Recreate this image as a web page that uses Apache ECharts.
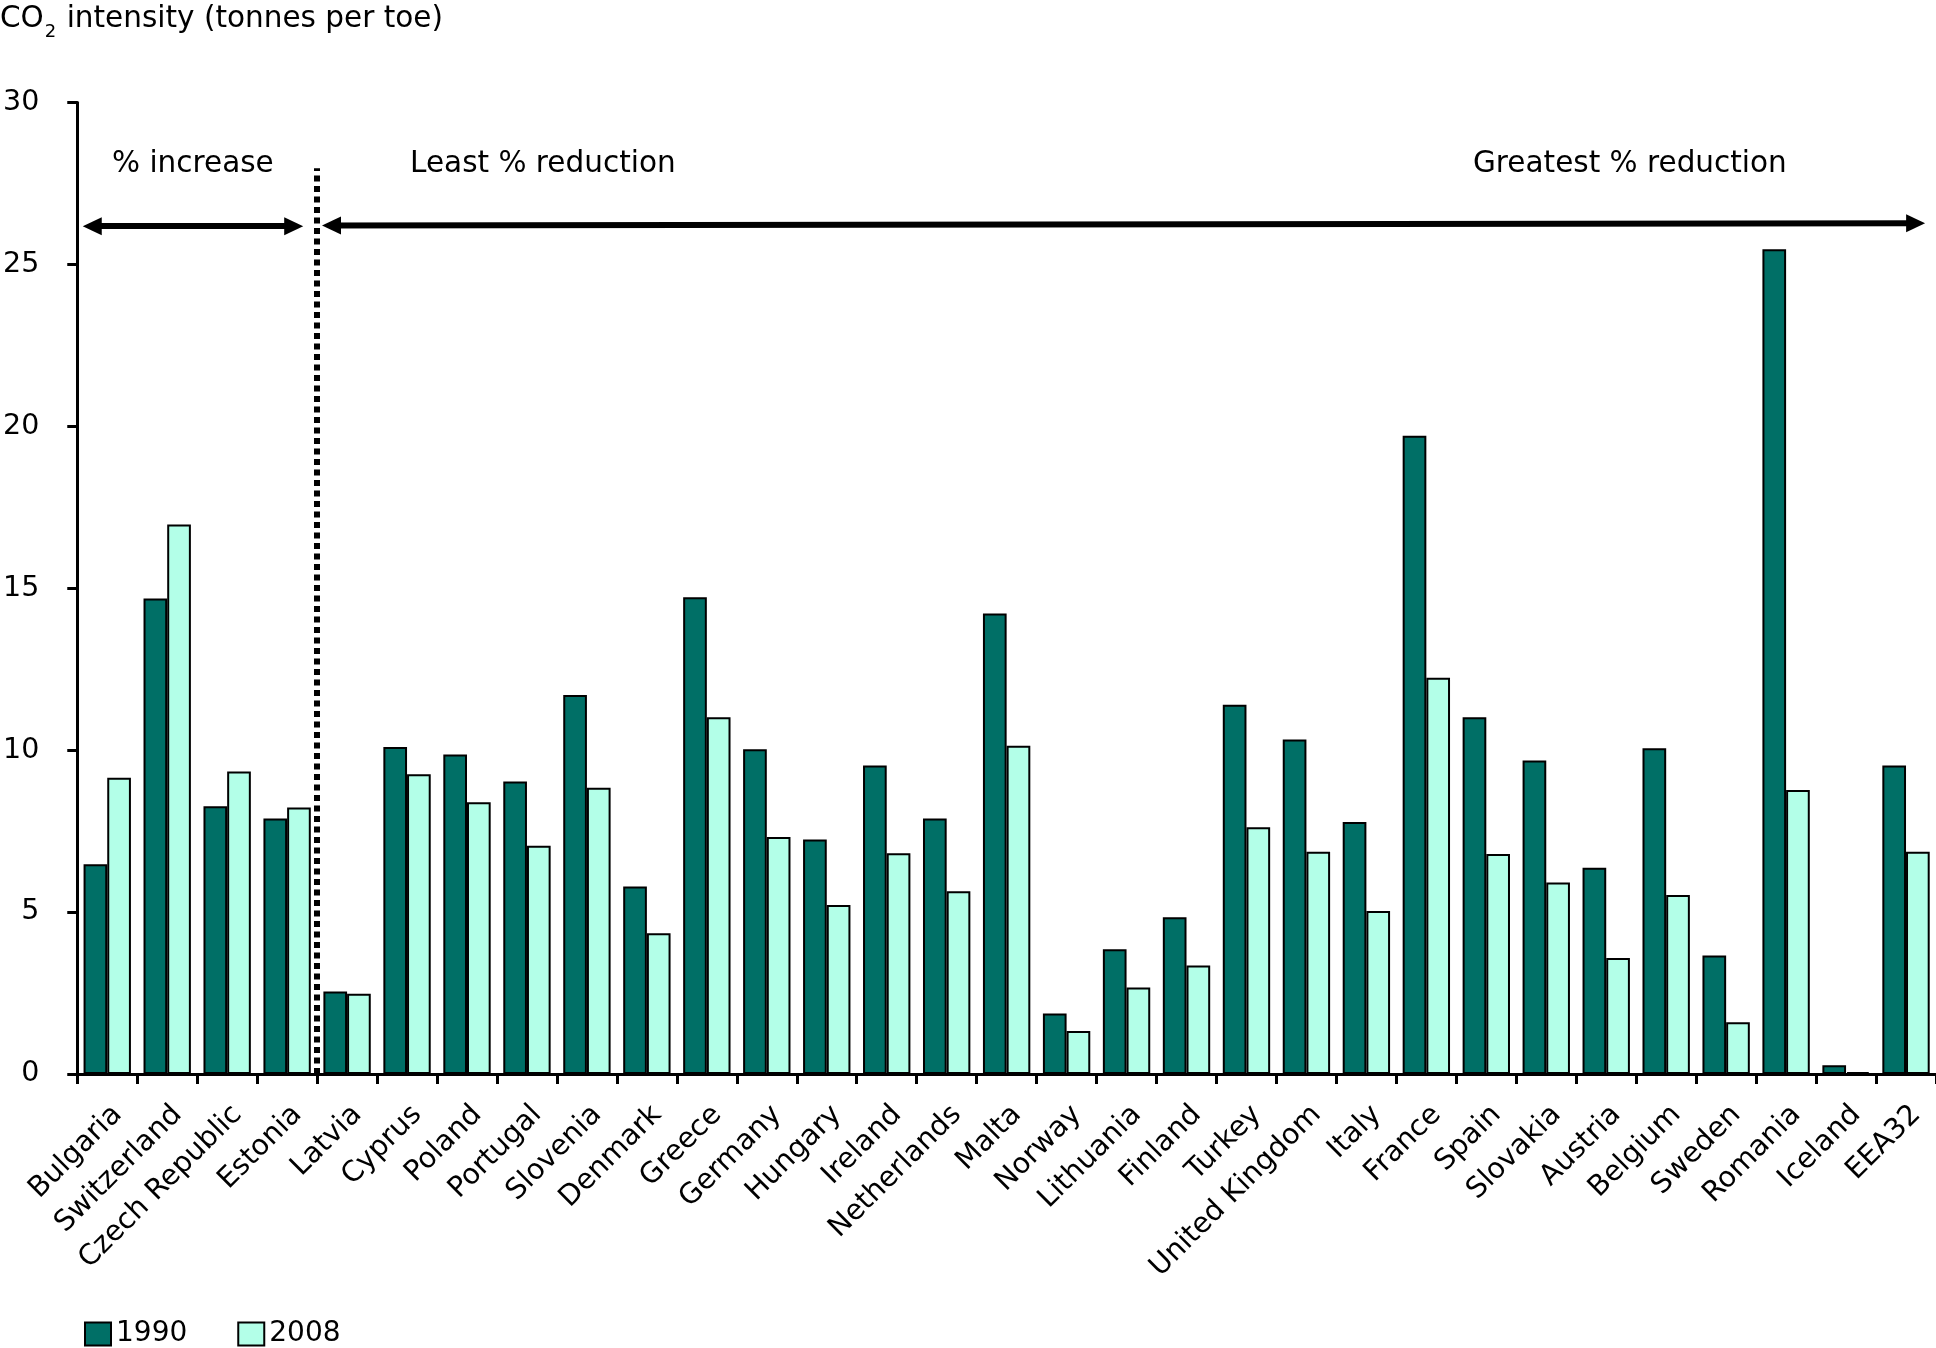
<!DOCTYPE html>
<html>
<head>
<meta charset="utf-8">
<script src="https://cdn.jsdelivr.net/npm/echarts@6/dist/echarts.min.js"></script>
<style>
html,body{margin:0;padding:0;background:#fff;}
#chart{width:1936px;height:1348px;}
</style>
</head>
<body>
<div id="chart"></div>
<script>
const categories = ["Bulgaria","Switzerland","Czech Republic","Estonia","Latvia","Cyprus","Poland","Portugal","Slovenia","Denmark","Greece","Germany","Hungary","Ireland","Netherlands","Malta","Norway","Lithuania","Finland","Turkey","United Kingdom","Italy","France","Spain","Slovakia","Austria","Belgium","Sweden","Romania","Iceland","EEA32"];
const values1990 = [6.48,14.68,8.27,7.89,2.55,10.1,9.87,9.03,11.7,5.79,14.72,10.03,7.24,9.53,7.89,14.22,1.87,3.85,4.84,11.4,10.33,7.78,19.71,11.02,9.68,6.37,10.06,3.66,25.47,0.27,9.53];
const values2008 = [9.15,16.97,9.34,8.23,2.48,9.26,8.39,7.05,8.84,4.35,11.02,7.32,5.22,6.82,5.64,10.14,1.33,2.67,3.35,7.62,6.86,5.03,12.24,6.79,5.91,3.58,5.53,1.6,8.77,0.06,6.86];
const yTicks = {min:0, max:30, interval:5};
const seriesNames = ["1990","2008"];
const colors = ["#006F66","#B3FFE8"];
// annotation layout in axis units (x: category boundaries 0..31, y: data units)
const dividerX = 4;
const dividerTop = 27.97;
const arrowIncrease = [[0.25,26.18],[3.61,26.18]];
const arrowReduction = [[4.24,26.2],[30.66,26.27]];
const FONT = "DejaVu Sans";

const chart = echarts.init(document.getElementById('chart'));
const option = {
  animation:false,
  backgroundColor:'#fff',
  textStyle:{fontFamily:FONT,color:'#000'},
  grid:{left:75,right:0,top:102.5,bottom:274,containLabel:false},
  xAxis:[{
    type:'category',data:categories,boundaryGap:true,
    axisLine:{lineStyle:{color:'#000',width:3}},
    axisTick:{show:true,length:10,lineStyle:{color:'#000',width:3}},
    axisLabel:{rotate:45,fontSize:28.5,fontFamily:FONT,color:'#000',margin:26,interval:0,verticalAlign:'top'},
    splitLine:{show:false}
  },{
    type:'value',min:0,max:31,show:false
  }],
  yAxis:[{
    type:'value',min:yTicks.min,max:yTicks.max,interval:yTicks.interval,
    axisLine:{show:true,lineStyle:{color:'#000',width:3}},
    axisTick:{show:true,length:10,lineStyle:{color:'#000',width:3}},
    axisLabel:{fontSize:28.5,fontFamily:FONT,color:'#000',margin:38},
    splitLine:{show:false}
  }],
  legend:{
    left:84,top:1320,padding:0,itemWidth:26,itemHeight:23,itemGap:50,
    textStyle:{fontSize:28,fontFamily:FONT,color:'#000'},
    data:seriesNames,icon:'rect'
  },
  series:[
    {name:seriesNames[0],type:'bar',data:values1990,barGap:'0%',barCategoryGap:'21%',
     itemStyle:{color:colors[0],borderColor:'#000',borderWidth:2}},
    {name:seriesNames[1],type:'bar',data:values2008,barGap:'0%',barCategoryGap:'21%',
     itemStyle:{color:colors[1],borderColor:'#000',borderWidth:2}},
    {name:'annot',type:'line',xAxisIndex:1,yAxisIndex:0,data:[],
     markLine:{
       silent:true,animation:false,
       label:{show:false},
       data:[
         [{coord:[dividerX,0],symbol:'none',lineStyle:{color:'#000',width:6,type:[6,4.5]}},
          {coord:[dividerX,dividerTop],symbol:'none'}],
         [{coord:arrowIncrease[0],symbol:'triangle',symbolSize:[18,19],lineStyle:{color:'#000',width:6,type:'solid'}},
          {coord:arrowIncrease[1],symbol:'triangle',symbolSize:[18,19]}],
         [{coord:arrowReduction[0],symbol:'triangle',symbolSize:[18,19],lineStyle:{color:'#000',width:6,type:'solid'}},
          {coord:arrowReduction[1],symbol:'triangle',symbolSize:[18,19]}]
       ],
       itemStyle:{color:'#000'}
     }}
  ],
  graphic:[
    {type:'text',left:0,top:2,style:{
      text:'{a|CO}{s|2}{a| intensity (tonnes per toe)}',
      rich:{a:{fontSize:29.5,fontFamily:FONT,fill:'#000',verticalAlign:'top',lineHeight:35},
            s:{fontSize:18,fontFamily:FONT,fill:'#000',padding:[21,1,0,1],lineHeight:35}}
    }},
    {type:'text',left:112,top:149,style:{text:'% increase',fontSize:29.5,fontFamily:FONT,fill:'#000'}},
    {type:'text',left:410,top:149,style:{text:'Least % reduction',fontSize:29.5,fontFamily:FONT,fill:'#000'}},
    {type:'text',left:1473,top:149,style:{text:'Greatest % reduction',fontSize:29.5,fontFamily:FONT,fill:'#000'}}
  ]
};
chart.setOption(option);
</script>
</body>
</html>
